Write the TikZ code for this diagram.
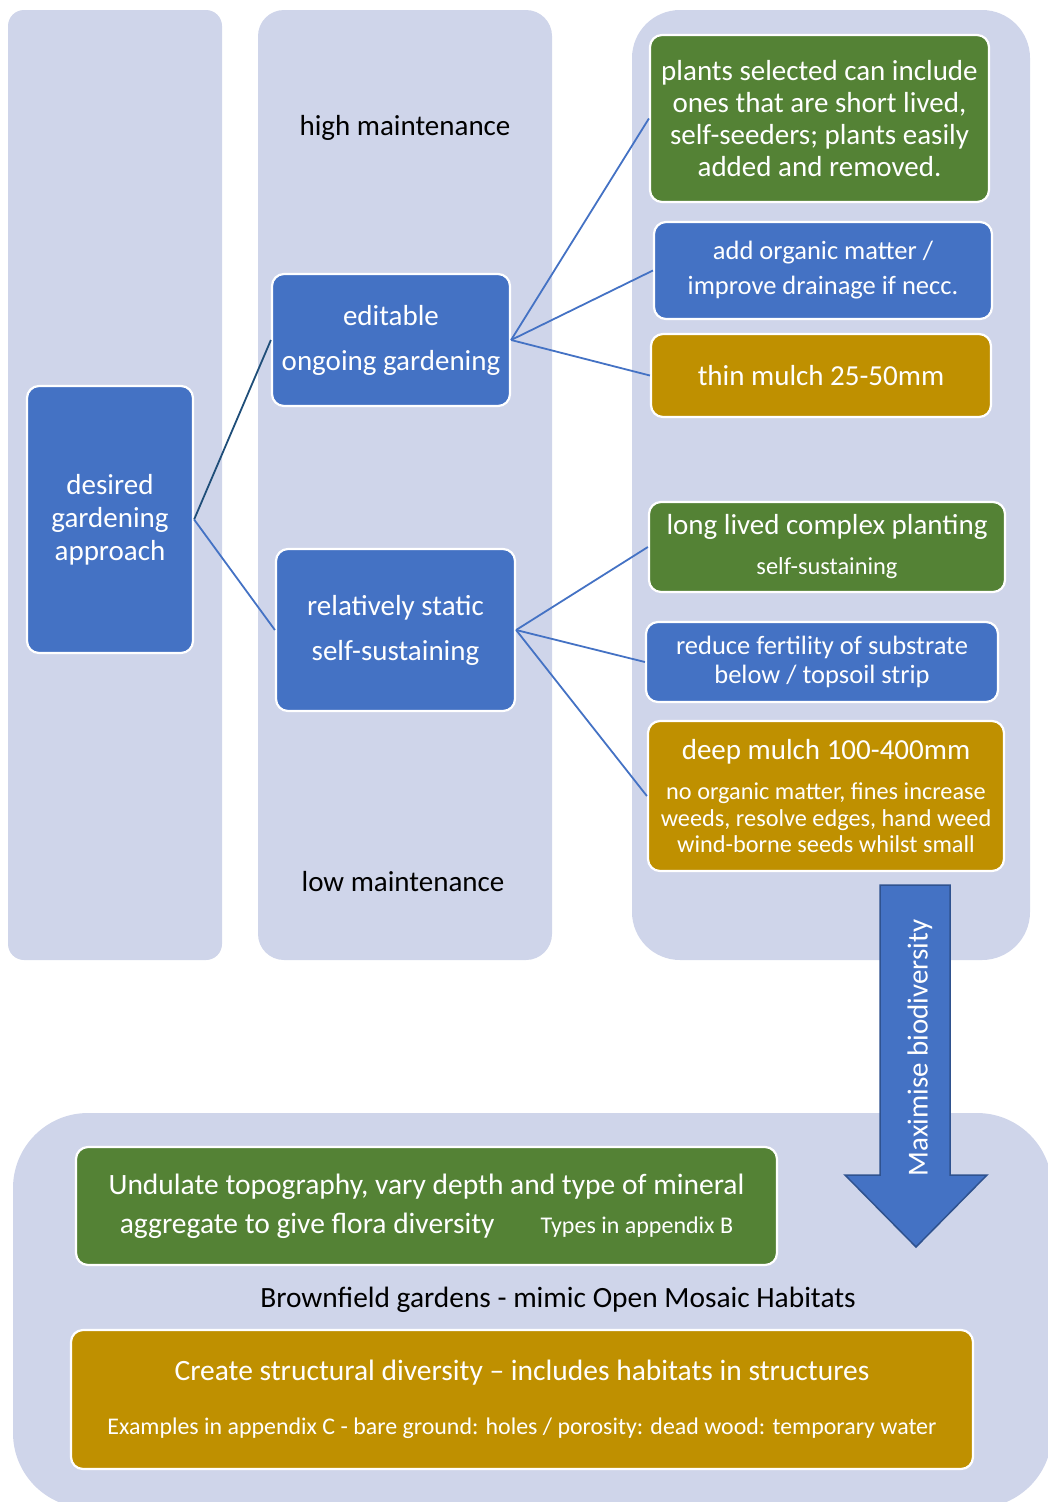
\documentclass[tikz,border=0pt]{standalone}
\usepackage{fontspec}
\setmainfont{Carlito}
\usepackage{xcolor}
\usetikzlibrary{arrows.meta,positioning}
\definecolor{pale}{HTML}{CFD5EA}
\definecolor{blue}{HTML}{4472C4}
\definecolor{green}{HTML}{548235}
\definecolor{gold}{HTML}{BF9000}
\definecolor{navy}{HTML}{2F528F}
\definecolor{dark}{HTML}{1F4E79}

\begin{document}
\begin{tikzpicture}[
  x=1pt,y=-1pt,
  box/.style={draw=white,line width=2.2pt,rounded corners=12pt,text=white,align=center,inner sep=0pt,font=\fontsize{29}{32}\selectfont},
  bluebox/.style={box,fill=blue},
  greenbox/.style={box,fill=green},
  goldbox/.style={box,fill=gold},
  note/.style={text=black,font=\fontsize{29}{32}\selectfont},
  link/.style={draw=blue,line width=1.8pt}
]
\useasboundingbox (0,0) rectangle (1048,1502);
\clip (0,0) rectangle (1048,1502);
% background panels
\fill[pale,rounded corners=16pt] (8,10) rectangle (222,960);
\fill[pale,rounded corners=26pt] (258,10) rectangle (552,960);
\fill[pale,rounded corners=48pt] (632,10) rectangle (1030,960);
\fill[pale,rounded corners=75pt] (13,1113) rectangle (1052,1508);

\node[bluebox,minimum width=166pt,minimum height=267pt,font=\fontsize{29}{33}\selectfont] (desired) at (110,519.5) {desired\\gardening\\approach};
\node[bluebox,minimum width=238pt,minimum height=132pt,font=\fontsize{29}{45}\selectfont] (editable) at (391,340) {editable\\ongoing gardening};
\node[bluebox,minimum width=239pt,minimum height=162pt,font=\fontsize{29}{45}\selectfont] (static) at (395.5,630) {relatively static\\self-sustaining};
\node[note] (high) at (405,128) {high maintenance};
\node[note] (low) at (403,882) {low maintenance};

\node[greenbox,minimum width=339pt,minimum height=167pt] (plants) at (819.5,118.5) {plants selected can include\\ones that are short lived,\\self-seeders; plants easily\\added and removed.};
\node[bluebox,minimum width=338pt,minimum height=97pt,font=\fontsize{26.5}{35}\selectfont] (organic) at (823,270.5) {add organic matter /\\improve drainage if necc.};
\node[goldbox,minimum width=340pt,minimum height=83pt] (thin) at (821,375.5) {thin mulch 25-50mm};

\node[greenbox,minimum width=356pt,minimum height=90pt] (longlived) at (827,547) {long lived complex planting\\[8pt]{\fontsize{24.4}{27}\selectfont self-sustaining}};
\node[bluebox,minimum width=352pt,minimum height=80pt,font=\fontsize{26.5}{29}\selectfont] (reduce) at (822,662) {reduce fertility of substrate\\below / topsoil strip};
\node[goldbox,minimum width=356pt,minimum height=150pt,font=\fontsize{24.3}{26.5}\selectfont] (deep) at (826,796) {{\fontsize{29}{32}\selectfont deep mulch 100-400mm}\\[14pt]no organic matter, fines increase\\weeds, resolve edges, hand weed\\wind-borne seeds whilst small};

\draw[link,draw=dark] (desired.east) -- (editable.west);
\draw[link] (desired.east) -- (static.west);
\draw[link] (editable.east) -- (plants.west);
\draw[link] (editable.east) -- (organic.west);
\draw[link] (editable.east) -- (thin.west);
\draw[link] (static.east) -- (longlived.west);
\draw[link] (static.east) -- (reduce.west);
\draw[link] (static.east) -- (deep.west);

% big arrow down to the brownfield panel
\draw[fill=blue,draw=navy,line width=1.5pt] (880,885) -- (950,885) -- (950,1175) -- (987,1175) -- (916,1247) -- (845,1175) -- (880,1175) -- cycle;
\node[rotate=90,text=white,font=\fontsize{29}{32}\selectfont] (maxi) at (920,1048) {Maximise biodiversity};

\node[greenbox,minimum width=701pt,minimum height=118pt,font=\fontsize{29.5}{39}\selectfont] (undulate) at (426.5,1206) {Undulate topography, vary depth and type of mineral\\aggregate to give flora diversity\hspace{46pt}{\fontsize{24}{26}\selectfont Types in appendix B}};
\node[note,font=\fontsize{29.4}{32}\selectfont] (brown) at (558,1300) {Brownfield gardens - mimic Open Mosaic Habitats};
\node[goldbox,minimum width=902pt,minimum height=139pt,font=\fontsize{29.5}{32}\selectfont] (structural) at (522,1399.5) {Create structural diversity -- includes habitats in structures\\[22pt]{\fontsize{23.9}{26}\selectfont Examples in appendix C - bare ground: holes / porosity: dead wood: temporary water}};
\end{tikzpicture}
\end{document}
